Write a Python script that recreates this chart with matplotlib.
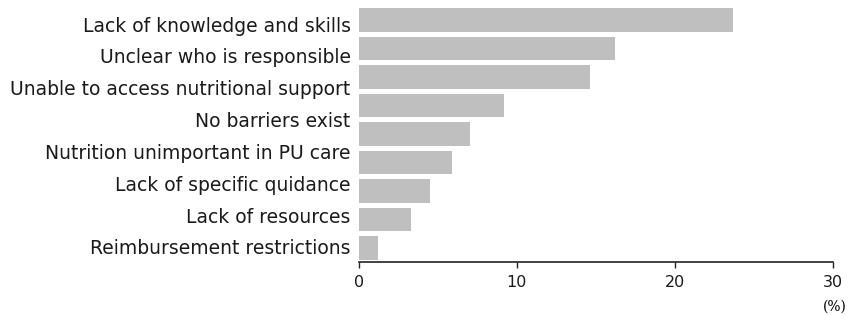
import numpy as np
import matplotlib
matplotlib.use("Agg")
import matplotlib.pyplot as plt

# barrier categories (8 labels) and bar values in % (9 bars)
categories = [
    "Lack of knowledge and skills",
    "Unclear who is responsible",
    "Unable to access nutritional support",
    "No barriers exist",
    "Nutrition unimportant in PU care",
    "Lack of specific quidance",
    "Lack of resources",
    "Reimbursement restrictions",
]
values = [23.7, 16.2, 14.6, 9.2, 7.0, 5.9, 4.5, 3.3, 1.2]
x_ticks = [0, 10, 20, 30]

fig = plt.figure(figsize=(8.48, 3.15), dpi=100)
ax = fig.add_axes([0.4233, 0.168, 0.5587, 0.81])

pos = np.arange(len(values))
ax.barh(pos, values, height=0.82, color="#bfbfbf")

ax.set_xlim(0, 30)
ax.set_ylim(8.49, -0.46)
ax.set_xticks(x_ticks)
ax.set_xticklabels([str(t) for t in x_ticks], fontsize=11.5, family="DejaVu Sans",
                   color="#1a1a1a")

# labels are spread evenly over the bar range, as in the source figure
label_pos = np.linspace(0.14, 7.96, len(categories))
ax.set_yticks(label_pos)
ax.set_yticklabels(categories, fontsize=13.5, family="DejaVu Sans", color="#1a1a1a")
ax.tick_params(axis="y", length=0, pad=6)
ax.tick_params(axis="x", length=4, width=1, direction="out", pad=5, color="#222222")

for s in ["top", "right", "left"]:
    ax.spines[s].set_visible(False)
ax.spines["bottom"].set_linewidth(1.2)
ax.spines["bottom"].set_color("#222222")

fig.text(0.998, 0.028, "(%)", ha="right", va="center", fontsize=10, family="DejaVu Serif")

fig.savefig("out.png", dpi=100)
